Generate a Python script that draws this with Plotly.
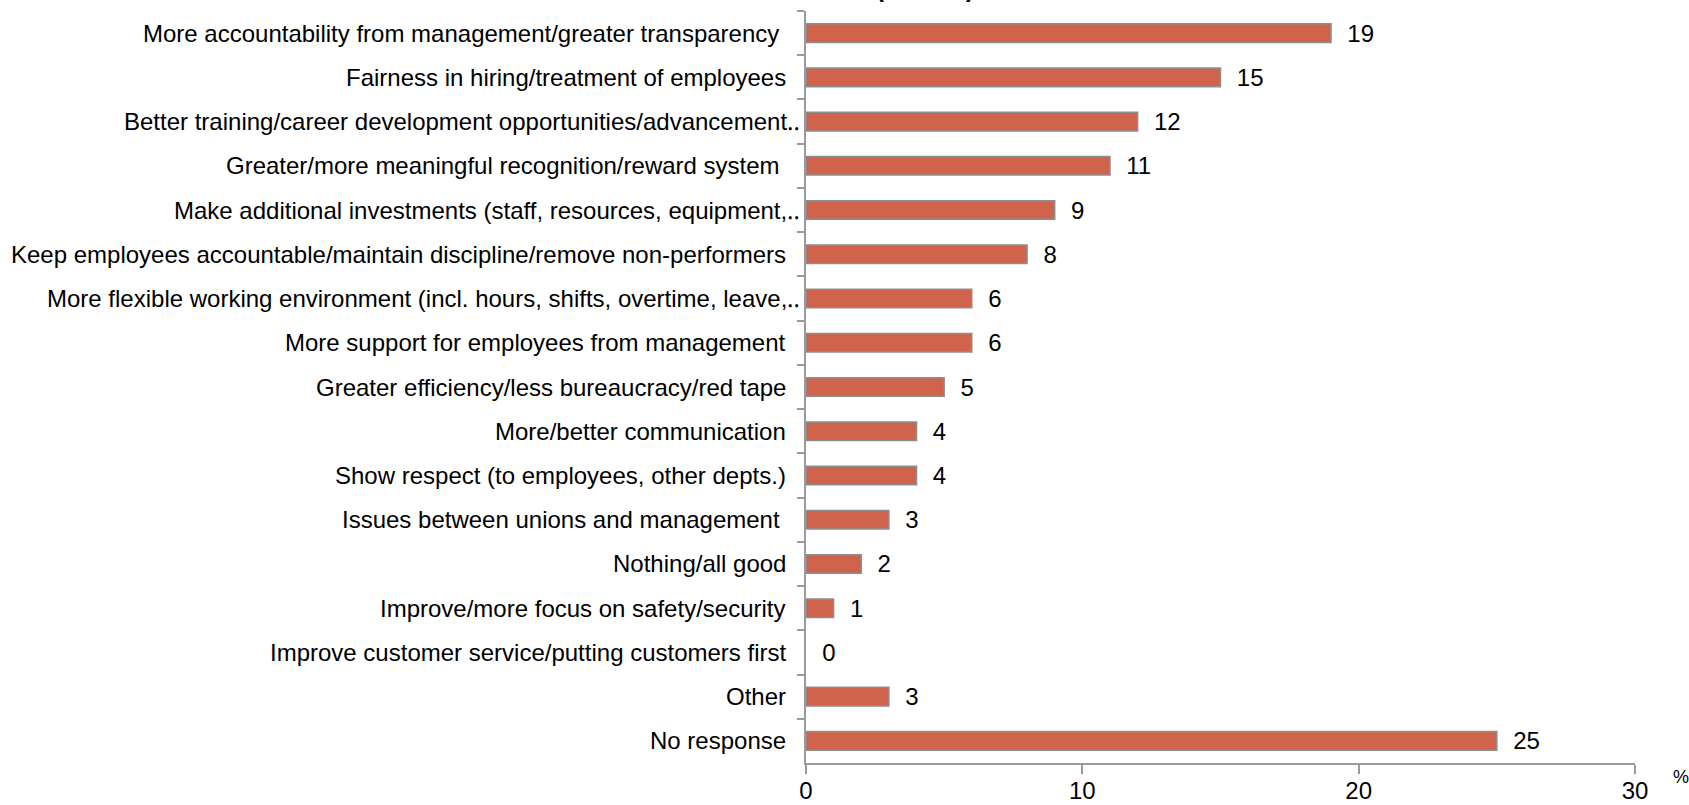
import plotly.graph_objects as go

# Survey answers, listed top to bottom
categories = [
    "More accountability from management/greater transparency\u00a0",
    "Fairness in hiring/treatment of employees",
    "Better training/career development opportunities/advancement\u2025",
    "Greater/more meaningful recognition/reward system\u00a0",
    "Make additional investments (staff, resources, equipment,\u2025",
    "Keep employees accountable/maintain discipline/remove non-performers",
    "More flexible working environment (incl. hours, shifts, overtime, leave,\u2025",
    "More support for employees from management",
    "Greater efficiency/less bureaucracy/red tape",
    "More/better communication",
    "Show respect (to employees, other depts.)",
    "Issues between unions and management\u00a0",
    "Nothing/all good",
    "Improve/more focus on safety/security",
    "Improve customer service/putting customers first",
    "Other",
    "No response",
]
percentages = [19, 15, 12, 11, 9, 8, 6, 6, 5, 4, 4, 3, 2, 1, 0, 3, 25]
x_ticks = [0, 10, 20, 30]
title_text = "(n=1038)"

FONT = "Liberation Sans, Arial, sans-serif"
BAR_COLOR = "#D0634B"
LINE_GREY = "#9A9A9A"

fig = go.Figure()
fig.add_trace(go.Bar(
    x=percentages,
    y=categories,
    orientation="h",
    width=0.42,
    marker=dict(
        color=BAR_COLOR,
        # no outline on empty bars
        line=dict(color="#8E8E8E", width=[1.5 if v > 0 else 0 for v in percentages]),
    ),
    text=["\u00a0\u00a0" + str(v) for v in percentages],
    textposition="outside",
    constraintext="none",
    cliponaxis=False,
    textfont=dict(family=FONT, size=24, color="#000000"),
    hoverinfo="skip",
))

# Category labels; truncated ones run right up to the axis
annotations = []
for cat in categories:
    truncated = cat.endswith("\u2025")
    annotations.append(dict(
        x=0, y=cat, xref="x", yref="y",
        text=cat, showarrow=False,
        xanchor="right", yanchor="middle",
        xshift=-4 if truncated else -18,
        font=dict(family=FONT, size=24, color="#000000"),
    ))

# Chart title sits above the canvas edge
annotations.append(dict(
    x=0.1435, y=1, xref="paper", yref="paper",
    text="<b>" + title_text + "</b>", showarrow=False,
    xanchor="center", yanchor="bottom", yshift=7,
    font=dict(family=FONT, size=24, color="#000000"),
))
# Unit marker next to the value axis
annotations.append(dict(
    x=1, y=0, xref="paper", yref="paper",
    text="%", showarrow=False,
    xanchor="center", yanchor="middle",
    xshift=46, yshift=-14,
    font=dict(family=FONT, size=18, color="#000000"),
))

fig.update_layout(
    width=1689, height=805,
    margin=dict(l=806, r=54, t=11, b=42),
    paper_bgcolor="white", plot_bgcolor="white",
    showlegend=False,
    bargap=0.58,
    annotations=annotations,
    font=dict(family=FONT, size=24, color="#000000"),
)
fig.update_xaxes(
    range=[0, 30],
    automargin=False,
    tickmode="array", tickvals=x_ticks, ticktext=[str(t) for t in x_ticks],
    showgrid=False, zeroline=False,
    showline=True, linecolor=LINE_GREY, linewidth=2,
    ticks="outside", ticklen=9, tickwidth=2, tickcolor=LINE_GREY,
    tickfont=dict(family=FONT, size=24, color="#000000"),
    ticklabelstandoff=-4,
)
fig.update_yaxes(
    autorange="reversed",
    automargin=False,
    showticklabels=False,
    showgrid=False, zeroline=False,
    showline=True, linecolor=LINE_GREY, linewidth=2,
    ticks="outside", ticklen=7, tickwidth=2, tickcolor=LINE_GREY,
    tickson="boundaries",
)

fig.write_html("out.html")
